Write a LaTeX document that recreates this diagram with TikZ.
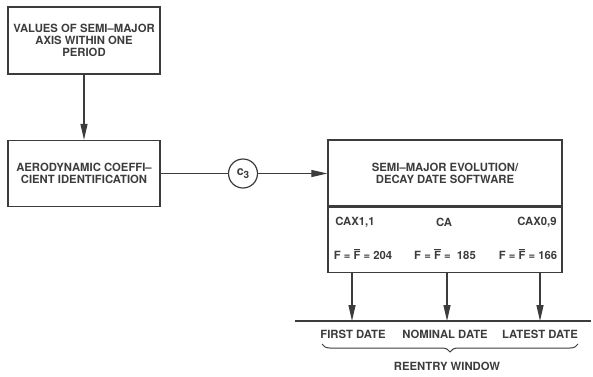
\documentclass[tikz,border=0pt]{standalone}
\usepackage{fontspec}
\setmainfont{TeX Gyre Heros}
\usepackage{xcolor}
\usetikzlibrary{positioning, arrows.meta, decorations.pathreplacing}

\definecolor{ink}{HTML}{3C3C3C}
\newcommand{\Fbar}{\ensuremath{\overline{\hbox{F}}}}

\begin{document}
\begin{tikzpicture}[x=1pt, y=-1pt,
		every node/.style={font=\bfseries\fontsize{11.3}{12.2}\selectfont, text=ink, align=center},
		block/.style={draw=ink, line width=1.3pt, inner sep=0pt},
		wire/.style={draw=ink, line width=1.2pt},
		flow/.style={wire, -{Triangle[length=16pt, width=7pt]}}]
		
		\useasboundingbox (0,0) rectangle (593,376);
		
		% left column
		\node [block, minimum width=152pt, minimum height=67pt] (values) at (84,40.5) {VALUES OF SEMI--MAJOR\\AXIS WITHIN ONE\\PERIOD};
		\node [block, minimum width=152pt, minimum height=66pt] (aero) at (84,173.5) {AERODYNAMIC COEFFI--\\CIENT IDENTIFICATION};
		
		\node [draw=ink, circle, line width=1.2pt, minimum size=29pt, inner sep=0pt] (c3) at (243,173.5) {\fontsize{12.5}{13}\selectfont c\raisebox{-0.4ex}{\fontsize{10}{10}\selectfont 3}};
		
		% software box
		\node [block, minimum width=234pt, minimum height=66pt] (soft) at (445,173) {SEMI--MAJOR EVOLUTION/\\DECAY DATE SOFTWARE};
		\node [block, minimum width=234pt, minimum height=65pt, anchor=north] (params) at (soft.south) {};
		
		\node (caxa) at (355,222) {CAX1,1};
		\node (ca) at (444,222) {CA};
		\node (caxb) at (537,222) {CAX0,9};
		\node (fa) at (363,254) {F = \Fbar{} = 204};
		\node (fb) at (445,254) {F = \Fbar{} =\ \ 185};
		\node (fc) at (528,254) {F = \Fbar{} = 166};
		
		\draw [flow] (values) -- (aero);
		\draw [wire] (aero) -- (c3);
		\draw [flow] (c3.east) -- (c3.east -| soft.west);
		
		% reentry window
		\coordinate (lineL) at (295,321);
		\coordinate (lineR) at (591,321);
		\coordinate (tfirst) at (352,321);
		\coordinate (tnominal) at (447,321);
		\coordinate (tlatest) at (540,321);
		\draw [wire] (lineL) -- (lineR);
		
		\foreach \t in {tfirst, tnominal, tlatest}
			\draw [flow] (params.south -| \t) -- (\t);
		
		\node (first) at (353,334) {FIRST DATE};
		\node (nominal) at (445,334) {NOMINAL DATE};
		\node (latest) at (540,334) {LATEST DATE};
		
		\coordinate (braceL) at (322,344);
		\coordinate (braceR) at (578,344);
		\draw [wire, line width=1pt, decorate, decoration={brace, mirror, amplitude=8pt}] (braceL) -- (braceR);
		\node (window) at (447,366) {REENTRY WINDOW};
	\end{tikzpicture}
\end{document}
